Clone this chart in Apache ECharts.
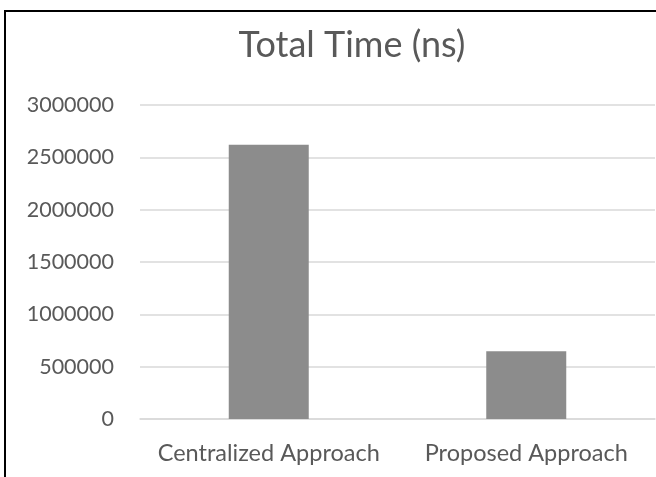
<!DOCTYPE html>
<html>
<head>
<meta charset="utf-8">
<script src="https://cdn.jsdelivr.net/npm/echarts@6/dist/echarts.min.js"></script>
<style>
  html, body { margin: 0; padding: 0; background: #fff; }
  #frame { position: absolute; left: 4px; top: 10px; width: 660px; height: 480px;
           border: 2px solid #000; box-sizing: border-box; }
  #chart { position: absolute; left: 0; top: 0; width: 656px; height: 477px; }
</style>
</head>
<body>
<div id="frame"></div>
<div id="chart"></div>
<script>
const categories = ['Centralized Approach', 'Proposed Approach'];
const totalTime = [2620000, 648000];
const yTicks = [0, 500000, 1000000, 1500000, 2000000, 2500000, 3000000];

const chart = echarts.init(document.getElementById('chart'));
const textColor = '#595959';
const font = 'Lato, "Open Sans", sans-serif';

chart.setOption({
  animation: false,
  title: {
    text: 'Total Time (ns)',
    left: 347,
    top: 22,
    textAlign: 'center',
    textStyle: { color: textColor, fontSize: 36, fontWeight: 'normal', fontFamily: font }
  },
  grid: { left: 140, right: 1, top: 105, bottom: 58, containLabel: false },
  xAxis: {
    type: 'category',
    data: categories,
    axisLine: { show: true, lineStyle: { color: '#d9d9d9', width: 1.5 } },
    axisTick: { show: false },
    axisLabel: { color: textColor, fontSize: 23.5, fontFamily: font, margin: 22, interval: 0 }
  },
  yAxis: {
    type: 'value',
    min: yTicks[0],
    max: yTicks[yTicks.length - 1],
    interval: yTicks[1] - yTicks[0],
    axisLine: { show: false },
    axisTick: { show: false },
    splitLine: { lineStyle: { color: '#d9d9d9', width: 1.5 } },
    axisLabel: {
      color: textColor, fontSize: 21.5, fontFamily: font, margin: 26,
      formatter: v => String(v)
    }
  },
  series: [{
    type: 'bar',
    data: totalTime,
    barWidth: 80,
    itemStyle: { color: '#8c8c8c' }
  }]
});
</script>
</body>
</html>
